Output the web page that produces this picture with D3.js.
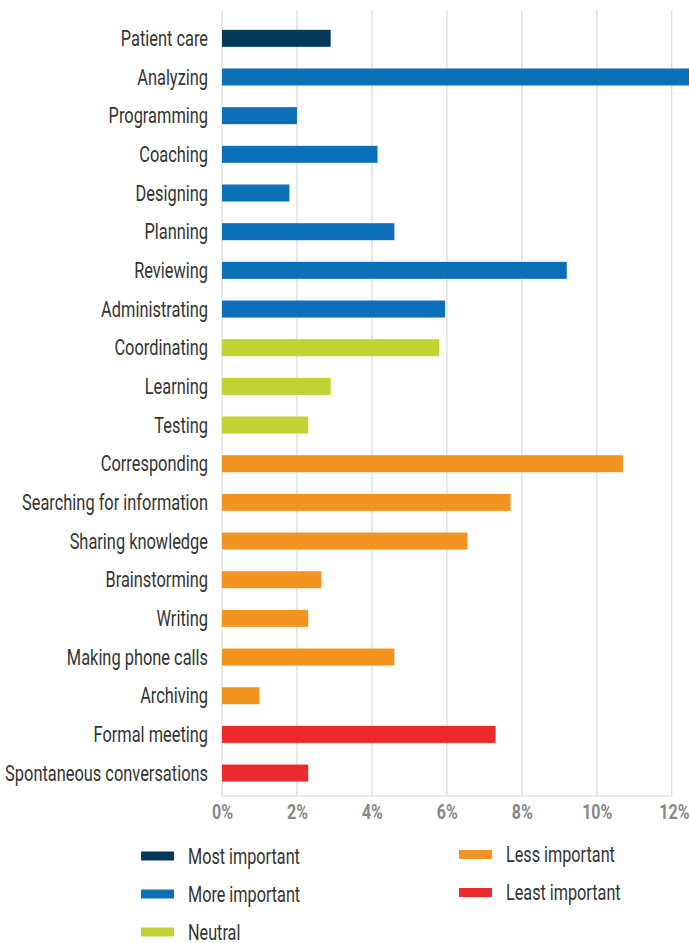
<!DOCTYPE html>
<html>
<head>
<meta charset="utf-8">
<script src="https://cdn.jsdelivr.net/npm/d3@7/dist/d3.min.js"></script>
<style>
  html, body { margin: 0; padding: 0; background: #fff; }
  svg { display: block; }
  text { font-family: Roboto, "Noto Sans", sans-serif; }
</style>
</head>
<body>
<div id="chart"></div>
<script>
const categories = ["Patient care","Analyzing","Programming","Coaching","Designing","Planning","Reviewing","Administrating","Coordinating","Learning","Testing","Corresponding","Searching for information","Sharing knowledge","Brainstorming","Writing","Making phone calls","Archiving","Formal meeting","Spontaneous conversations"];
const values = [2.9, 12.6, 2.0, 4.15, 1.8, 4.6, 9.2, 5.95, 5.8, 2.9, 2.3, 10.7, 7.7, 6.55, 2.65, 2.3, 4.6, 1.0, 7.3, 2.3];
const groups = ["Most important","More important","More important","More important","More important","More important","More important","More important","Neutral","Neutral","Neutral","Less important","Less important","Less important","Less important","Less important","Less important","Less important","Least important","Least important"];
const legendNames = ["Most important","More important","Neutral","Less important","Least important"];
const legendColors = ["#053a5d","#0b70b8","#c1d332","#f49420","#ea2a2d"];
const xTicks = [0, 2, 4, 6, 8, 10, 12];

const W = 689, H = 943;
const svg = d3.select("#chart").append("svg").attr("width", W).attr("height", H);

const color = d3.scaleOrdinal().domain(legendNames).range(legendColors);
const x = d3.scaleLinear().domain([0, 12]).range([222, 671.7]);
const y = d3.scaleBand().domain(categories).range([19, 792.4]).paddingInner(0.56).paddingOuter(0.28);

const gridTop = 10, gridBottom = 796;

// measure helper: returns horizontal condense factor so that `sample` has width `target`
function condense(sample, size, weight, target) {
  const t = svg.append("text").attr("font-size", size).attr("font-weight", weight).text(sample);
  const w = t.node().getComputedTextLength();
  t.remove();
  return target / w;
}

// gridlines
svg.append("g").selectAll("line").data(xTicks).join("line")
  .attr("x1", d => x(d)).attr("x2", d => x(d))
  .attr("y1", gridTop).attr("y2", gridBottom)
  .attr("stroke", "#e2e2e2").attr("stroke-width", 1.5);

svg.append("line").attr("x1", x(0)).attr("x2", x(12))
  .attr("y1", gridBottom).attr("y2", gridBottom)
  .attr("stroke", "#e2e2e2").attr("stroke-width", 1.5);

// bars
const data = categories.map((c, i) => ({c, v: values[i], g: groups[i]}));
svg.append("g").selectAll("rect").data(data).join("rect")
  .attr("x", x(0))
  .attr("y", d => y(d.c))
  .attr("width", d => Math.min(x(d.v), W + 5) - x(0))
  .attr("height", y.bandwidth())
  .attr("fill", d => color(d.g));

// category labels
const labelSize = 21.5;
const fLab = condense("Spontaneous conversations", labelSize, "normal", 203);
svg.append("g").selectAll("text").data(categories).join("text")
  .attr("transform", d => `translate(208, ${y(d) + y.bandwidth() / 2}) scale(${fLab}, 1)`)
  .attr("dy", "0.36em")
  .attr("text-anchor", "end")
  .attr("font-size", labelSize)
  .attr("fill", "#333")
  .text(d => d);

// x axis tick labels
const tickSize = 19.5;
const fTick = condense("0%", tickSize, "bold", 21);
const xAxis = d3.axisBottom(x).tickValues(xTicks).tickFormat(d => d + "%").tickSize(0).tickPadding(0);
const gx = svg.append("g").attr("transform", `translate(0, ${gridBottom + 9})`).call(xAxis);
gx.select(".domain").remove();
gx.selectAll("text")
  .attr("font-family", 'Roboto, "Noto Sans", sans-serif')
  .attr("font-size", tickSize).attr("font-weight", "bold").attr("fill", "#878787")
  .attr("text-anchor", d => d === 12 ? "end" : "middle")
  .attr("transform", d => d === 12 ? `translate(${W - x(12)},0) scale(${fTick},1)` : `scale(${fTick},1)`)
  .attr("dy", "0.71em");

// legend
const legendPos = [
  {x: 141, y: 856}, {x: 141, y: 894}, {x: 141, y: 932},
  {x: 459, y: 854.5}, {x: 459, y: 892.5}
];
const legSize = 21.5;
const fLeg = condense("Most important", legSize, "normal", 112);
const lg = svg.append("g").selectAll("g").data(legendNames).join("g")
  .attr("transform", (d, i) => `translate(${legendPos[i].x}, ${legendPos[i].y})`);
lg.append("rect").attr("x", 0).attr("y", -4.5).attr("width", 33).attr("height", 9)
  .attr("fill", d => color(d));
lg.append("text")
  .attr("transform", `translate(47, 0) scale(${fLeg}, 1)`)
  .attr("dy", "0.36em")
  .attr("font-size", legSize).attr("fill", "#333").text(d => d);
</script>
</body>
</html>
